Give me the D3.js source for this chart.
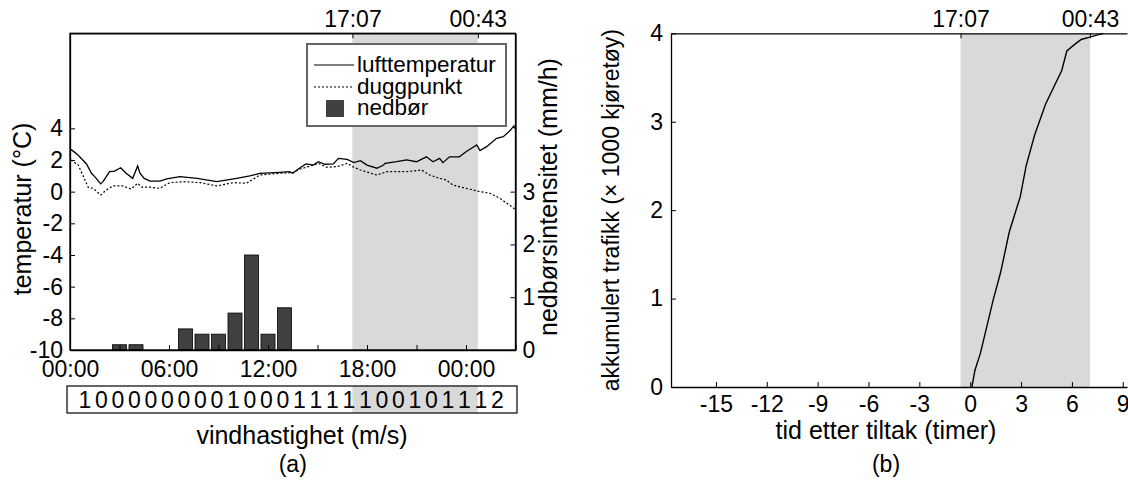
<!DOCTYPE html>
<html><head><meta charset="utf-8">
<script src="https://cdn.jsdelivr.net/npm/d3@7"></script>
<style>
body{margin:0;background:#fff;}
text{font-family:"Liberation Sans",Arial,sans-serif;fill:#000;}
</style></head>
<body><svg id="c" width="1128" height="481"></svg>
<script>
// ---- data (a) ----
const airHours = [0.06,0.5,1.0,1.3,1.5,1.86,2.0,2.4,2.7,3.07,3.4,3.8,4.1,4.24,4.5,4.85,5.45,5.86,6.67,7.7,8.9,10.1,10.9,11.5,12.7,13.3,13.5,13.9,14.3,14.75,15.05,15.45,15.96,16.27,16.8,17.2,17.6,18.0,18.6,19.0,19.1,19.8,20.4,21.0,21.6,22.0,22.4,22.6,23.0,23.6,24.0,24.65,24.85,25.25,25.86,26.26,26.7,26.9,27.0];
const airTemp  = [2.67,2.3,1.75,1.16,0.95,0.49,0.63,1.26,1.3,1.51,1.16,0.84,1.62,1.16,0.84,0.67,0.67,0.8,0.95,0.84,0.63,0.84,0.99,1.16,1.22,1.26,1.16,1.48,1.75,1.68,1.89,1.73,1.75,2.1,2.04,1.83,1.96,1.68,1.48,1.68,1.79,1.89,2.0,1.89,2.2,1.89,2.1,1.83,2.2,2.2,2.52,2.95,2.59,2.84,3.37,3.47,3.89,4.15,3.95];
const dewHours = [0.06,0.5,1.1,1.4,1.86,2.2,2.6,3.2,3.7,4.1,4.35,4.85,5.45,6.06,6.87,7.88,8.9,9.9,10.7,11.5,12.7,13.5,13.9,14.75,15.05,15.55,16.2,16.8,17.2,17.6,18.6,19.2,20.4,21.3,21.8,22.4,22.8,23.2,24.0,24.85,25.45,26.06,26.9,27.0];
const dewTemp  = [2.0,1.68,0.28,0.21,-0.21,0.1,0.36,0.36,0.17,0.53,0.28,0.28,0.21,0.57,0.63,0.57,0.36,0.57,0.53,1.05,1.16,1.2,1.41,1.68,1.79,1.54,1.58,1.79,1.54,1.37,1.05,1.26,1.26,1.37,1.05,0.84,0.74,0.42,0.21,0.0,-0.1,-0.42,-1.05,-1.2];
const rainHours = [3,4,7,8,9,10,11,12,13];
const rainValues = [0.1,0.1,0.4,0.3,0.3,0.7,1.8,0.3,0.8];
const windValues = [1,0,0,0,0,0,0,0,0,1,0,0,0,1,1,1,1,1,0,0,1,0,1,1,1,2];
const tempTicks = [-10,-8,-6,-4,-2,0,2,4];
const rainTicks = [0,1,2,3];
const hourTicks = [0,3,6,9,12,15,18,21,24,27];
const hourLabels = {0:"00:00",6:"06:00",12:"12:00",18:"18:00",24:"00:00"};
const shadeA = [17.117, 24.717];
const shadeLabels = ["17:07","00:43"];
// ---- data (b) ----
const trafHours = [0.1,0.28,0.6,1.35,1.8,2.3,2.95,3.3,3.8,4.45,5.4,5.7,6.2,6.55,7.1,7.85];
const trafValues = [0,0.19,0.38,0.98,1.3,1.75,2.15,2.5,2.85,3.2,3.58,3.8,3.88,3.93,3.96,4.0];
const relTicks = [-15,-12,-9,-6,-3,0,3,6,9];
const trafTicks = [0,1,2,3,4];
const shadeB = [-0.57, 7.07];

const svg = d3.select("#c");
const FS = 23;
const grey = "#d9d9d9";
const fmtInt = d => String(d).replace("\u2212","-");

// ===== panel (a) =====
const L = 70, R = 515.5, T = 33.3, B = 350;
const xA = d3.scaleLinear().domain([0,27]).range([L,R]);
const yT = d3.scaleLinear().domain([-10,10]).range([B,T]);
const yP = d3.scaleLinear().domain([0,6]).range([B,T]);

svg.append("rect").attr("x",xA(shadeA[0])).attr("y",T).attr("width",xA(shadeA[1])-xA(shadeA[0])).attr("height",B-T).attr("fill",grey);

const bw = 0.85;
svg.append("g").selectAll("rect").data(rainHours).join("rect")
  .attr("x",(d)=>xA(d-bw/2)).attr("width",xA(bw)-xA(0))
  .attr("y",(d,i)=>yP(rainValues[i])).attr("height",(d,i)=>yP(0)-yP(rainValues[i]))
  .attr("fill","#404040").attr("stroke","#000").attr("stroke-width",0.8);

const lineA = d3.line().x(d=>xA(d[0])).y(d=>yT(d[1]));
svg.append("path").datum(airHours.map((h,i)=>[h,airTemp[i]])).attr("d",lineA)
  .attr("fill","none").attr("stroke","#000").attr("stroke-width",1.3);
svg.append("path").datum(dewHours.map((h,i)=>[h,dewTemp[i]])).attr("d",lineA)
  .attr("fill","none").attr("stroke","#000").attr("stroke-width",1.2).attr("stroke-dasharray","2,2");

// box
svg.append("rect").attr("x",L).attr("y",T).attr("width",R-L).attr("height",B-T).attr("fill","none").attr("stroke","#000").attr("stroke-width",1.3);

function styleAxis(g){
  g.selectAll("text").style("font-size",FS+"px").style("font-family","'Liberation Sans',Arial,sans-serif");
  g.selectAll("path.domain").attr("stroke","#000").attr("stroke-width",1.3);
  g.selectAll("line").attr("stroke","#000");
}
svg.append("g").attr("transform",`translate(0,${B})`)
  .call(d3.axisBottom(xA).tickValues(hourTicks).tickSize(-5).tickSizeOuter(0).tickPadding(11).tickFormat(d=>hourLabels[d]||""))
  .call(styleAxis);
svg.append("g").attr("transform",`translate(0,${T})`)
  .call(d3.axisTop(xA).tickValues(shadeA).tickSize(-5).tickSizeOuter(0).tickPadding(6).tickFormat((d,i)=>shadeLabels[i]))
  .call(styleAxis);
svg.append("g").attr("transform",`translate(${L},0)`)
  .call(d3.axisLeft(yT).tickValues(tempTicks).tickSize(-5).tickSizeOuter(0).tickPadding(7).tickFormat(fmtInt))
  .call(styleAxis);
svg.append("g").attr("transform",`translate(${R},0)`)
  .call(d3.axisRight(yP).tickValues(rainTicks).tickSize(-5).tickSizeOuter(0).tickPadding(7).tickFormat(fmtInt))
  .call(styleAxis);

// legend
const lg = svg.append("g");
lg.append("rect").attr("x",307).attr("y",44).attr("width",199).attr("height",82).attr("fill","#fff").attr("stroke","#666").attr("stroke-width",2);
lg.append("line").attr("x1",314).attr("x2",354).attr("y1",65).attr("y2",65).attr("stroke","#000").attr("stroke-width",1.2);
lg.append("line").attr("x1",314).attr("x2",354).attr("y1",87).attr("y2",87).attr("stroke","#000").attr("stroke-width",1.2).attr("stroke-dasharray","2,2");
lg.append("rect").attr("x",326).attr("y",100).attr("width",18).attr("height",17).attr("fill","#404040");
["lufttemperatur","duggpunkt","nedbør"].forEach((t,i)=>{
  lg.append("text").attr("x",357).attr("y",[72,94,115][i]).style("font-size","22.5px").text(t);
});

// wind box
const wy0 = 386, wy1 = 413;
svg.append("rect").attr("x",xA(shadeA[0])).attr("y",wy0).attr("width",xA(shadeA[1])-xA(shadeA[0])).attr("height",wy1-wy0).attr("fill",grey);
svg.append("rect").attr("x",67).attr("y",wy0).attr("width",450).attr("height",wy1-wy0).attr("fill","none").attr("stroke","#000").attr("stroke-width",1.2);
svg.append("g").selectAll("text").data(windValues).join("text")
  .attr("x",(d,i)=>xA(i+0.9)).attr("y",408).attr("text-anchor","middle").style("font-size",FS+"px").text(d=>d);

svg.append("text").attr("x",302).attr("y",444).attr("text-anchor","middle").style("font-size","25px").text("vindhastighet (m/s)");
svg.append("text").attr("x",(L+R)/2).attr("y",472).attr("text-anchor","middle").style("font-size",FS+"px").text("(a)");
svg.append("text").attr("transform",`translate(31,209) rotate(-90)`).attr("text-anchor","middle").style("font-size","25px").text("temperatur (°C)");
svg.append("text").attr("transform",`translate(557,197) rotate(-90)`).attr("text-anchor","middle").style("font-size","25px").text("nedbørsintensitet (mm/h)");

// ===== panel (b) =====
const L2 = 671, R2 = 1127, B2 = 387;
const xB = d3.scaleLinear().domain([-17.65,9.25]).range([L2,R2]);
const yB = d3.scaleLinear().domain([0,4]).range([B2,T]);
svg.append("rect").attr("x",xB(shadeB[0])).attr("y",T).attr("width",xB(shadeB[1])-xB(shadeB[0])).attr("height",B2-T).attr("fill",grey);
svg.append("path").datum(trafHours.map((h,i)=>[h,trafValues[i]]))
  .attr("d",d3.line().x(d=>xB(d[0])).y(d=>yB(d[1])))
  .attr("fill","none").attr("stroke","#000").attr("stroke-width",1.4);
svg.append("g").attr("transform",`translate(0,${B2})`)
  .call(d3.axisBottom(xB).tickValues(relTicks).tickSize(-5).tickSizeOuter(0).tickPadding(9).tickFormat(fmtInt))
  .call(styleAxis);
svg.append("g").attr("transform",`translate(0,${T})`)
  .call(d3.axisTop(xB).tickValues(shadeB).tickSize(-5).tickSizeOuter(0).tickPadding(6).tickFormat((d,i)=>shadeLabels[i]))
  .call(styleAxis);
svg.append("g").attr("transform",`translate(${L2},0)`)
  .call(d3.axisLeft(yB).tickValues(trafTicks).tickSize(-5).tickSizeOuter(0).tickPadding(8).tickFormat(fmtInt))
  .call(styleAxis);
svg.append("text").attr("x",886).attr("y",439).attr("text-anchor","middle").style("font-size","25px").text("tid etter tiltak (timer)");
svg.append("text").attr("x",886).attr("y",472).attr("text-anchor","middle").style("font-size",FS+"px").text("(b)");
svg.append("text").attr("transform",`translate(619,${(T+B2)/2}) rotate(-90)`).attr("text-anchor","middle").style("font-size",FS+"px").text("akkumulert trafikk (× 1000 kjøretøy)");
</script></body></html>
